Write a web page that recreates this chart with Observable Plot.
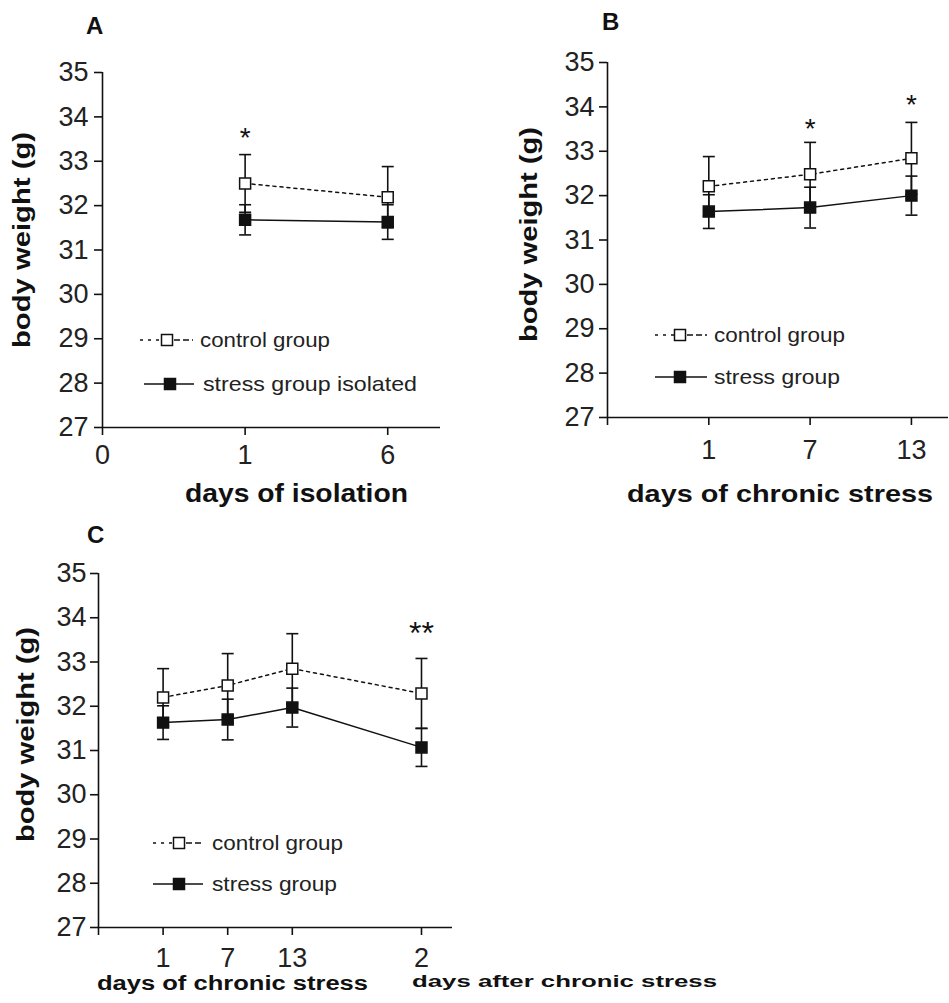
<!DOCTYPE html>
<html><head><meta charset="utf-8">
<script src="https://cdn.jsdelivr.net/npm/d3@7"></script>
<script src="https://cdn.jsdelivr.net/npm/@observablehq/plot@0.6"></script>
<style>
body{margin:0;background:#fff;}
#wrap{position:relative;width:949px;height:1003px;overflow:hidden;background:#fff;}
#wrap svg{position:absolute;}
</style></head><body><div id="wrap"></div>
<script>
// ---------- Panel A: days of isolation ----------
const daysA = ["1", "6"];
const tickLabelsA = ["0", "1", "6"];
const controlA = [32.50, 32.19];
const controlSeA = [0.65, 0.69];
const stressA = [31.68, 31.63];
const stressSeA = [0.34, 0.39];
const starsA = [{day: "1", y: 33.69, label: "*"}];

// ---------- Panel B: days of chronic stress ----------
const daysB = ["1", "7", "13"];
const tickLabelsB = ["", "1", "7", "13"];
const controlB = [32.21, 32.48, 32.84];
const controlSeB = [0.67, 0.72, 0.81];
const stressB = [31.64, 31.73, 32.00];
const stressSeB = [0.38, 0.46, 0.44];
const starsB = [{day: "7", y: 33.65, label: "*"}, {day: "13", y: 34.19, label: "*"}];

// ---------- Panel C: chronic stress + days after ----------
const daysC = ["1", "7", "13", "2"];
const phaseC = ["chronic", "chronic", "chronic", "after"];
const controlC = [32.20, 32.47, 32.85, 32.29];
const controlSeC = [0.65, 0.72, 0.79, 0.79];
const stressC = [31.63, 31.70, 31.97, 31.07];
const stressSeC = [0.38, 0.46, 0.44, 0.43];
const starsC = [{day: "2", y: 33.82, label: "**"}];

const yTicks = [27, 28, 29, 30, 31, 32, 33, 34, 35];
const INK = "#111";
const FONT = "'Liberation Sans', Arial, Helvetica, sans-serif";

const capSymbol = {draw(ctx, size) { const w = Math.sqrt(size / Math.PI); ctx.moveTo(-w, 0); ctx.lineTo(w, 0); }};

function panel(cfg) {
  const rows = [];
  cfg.days.forEach((d, i) => {
    const pos = cfg.pos(i);
    rows.push({day: d, pos, group: "control", mean: cfg.control[i], se: cfg.controlSe[i]});
    rows.push({day: d, pos, group: "stress", mean: cfg.stress[i], se: cfg.stressSe[i]});
  });
  const ctrl = rows.filter(r => r.group === "control");
  const str = rows.filter(r => r.group === "stress");
  const caps = rows.flatMap(r => [{pos: r.pos, y: r.mean + r.se}, {pos: r.pos, y: r.mean - r.se}]);
  const stars = cfg.stars.map(s => ({...s, pos: cfg.pos(cfg.days.indexOf(s.day))}));

  const svg = Plot.plot({
    width: cfg.width, height: cfg.height,
    marginLeft: cfg.ml, marginRight: cfg.mr, marginTop: cfg.mt, marginBottom: cfg.mb,
    x: {domain: [0, cfg.xmax]},
    y: {domain: [27, 35]},
    style: {fontFamily: FONT, color: INK, background: "transparent", overflow: "visible"},
    marks: [
      Plot.ruleY([27], {stroke: INK, strokeWidth: 1.6}),
      Plot.ruleX([0], {stroke: INK, strokeWidth: 1.6}),
      Plot.axisY({ticks: yTicks, tickSize: 8, tickPadding: cfg.yPad, fontSize: 27, strokeWidth: 1.6, label: null, tickFormat: d => String(d), fill: "#222"}),
      Plot.axisX({ticks: cfg.ticks, tickSize: 8, tickPadding: cfg.xPad, fontSize: 27, strokeWidth: 1.6, label: null, tickFormat: cfg.tickFormat, fill: "#222"}),
      Plot.ruleX(rows, {x: "pos", y1: r => r.mean - r.se, y2: r => r.mean + r.se, stroke: INK, strokeWidth: 1.6}),
      Plot.dot(caps, {x: "pos", y: "y", symbol: capSymbol, r: 6, stroke: INK, strokeWidth: 1.6, fill: "none"}),
      Plot.line(ctrl, {x: "pos", y: "mean", stroke: INK, strokeWidth: 1.5, strokeDasharray: "3,4"}),
      Plot.line(str, {x: "pos", y: "mean", stroke: INK, strokeWidth: 1.5}),
      Plot.dot(str, {x: "pos", y: "mean", symbol: "square", r: 6.2, stroke: INK, strokeWidth: 1.5, fill: INK}),
      Plot.dot(ctrl, {x: "pos", y: "mean", symbol: "square", r: 6.2, stroke: INK, strokeWidth: 1.5, fill: "white"}),
      Plot.text(stars, {x: "pos", y: "y", text: "label", fontSize: cfg.starSize, dy: cfg.starDy, lineAnchor: "middle", fill: INK})
    ]
  });
  svg.style.left = cfg.left + "px";
  svg.style.top = cfg.top + "px";
  const g = d3.select(svg);
  const txt = (t) => {
    const e = g.append("text")
      .attr("font-family", FONT)
      .attr("font-size", t.size)
      .attr("font-weight", t.bold ? "bold" : "normal")
      .attr("fill", t.fill || INK)
      .attr("text-anchor", t.anchor || "middle")
      .text(t.text);
    if (t.rotate) e.attr("transform", `translate(${t.x},${t.y}) rotate(-90)`);
    else e.attr("x", t.x).attr("y", t.y);
    if (t.length) e.attr("textLength", t.length).attr("lengthAdjust", "spacingAndGlyphs");
  };
  cfg.texts.forEach(txt);
  // legend
  const L = cfg.legend;
  const lc = g.append("g").attr("stroke", INK).attr("stroke-width", 1.5);
  lc.append("line").attr("x1", L.c.x1).attr("x2", L.c.sq - 6).attr("y1", L.c.y).attr("y2", L.c.y).attr("stroke-dasharray", "3,5");
  lc.append("line").attr("x1", L.c.sq + 7).attr("x2", L.c.x2).attr("y1", L.c.y).attr("y2", L.c.y).attr("stroke-dasharray", "6,3");
  lc.append("rect").attr("x", L.c.sq - 5.5).attr("y", L.c.y - 5.5).attr("width", 11).attr("height", 11).attr("fill", "white").attr("stroke-width", 1.5);
  lc.append("line").attr("x1", L.s.x1).attr("x2", L.s.x2).attr("y1", L.s.y).attr("y2", L.s.y);
  lc.append("rect").attr("x", L.s.sq - 5.5).attr("y", L.s.y - 5.5).attr("width", 11).attr("height", 11).attr("fill", INK).attr("stroke-width", 1.5);
  txt({x: L.c.tx, y: L.c.y + 7, text: "control group", size: 21, anchor: "start", length: L.c.len, fill: "#222"});
  txt({x: L.s.tx, y: L.s.y + 7, text: L.s.text, size: 21, anchor: "start", length: L.s.len, fill: "#222"});
  document.getElementById("wrap").appendChild(svg);
}

panel({
  left: 0, top: 0, width: 475, height: 510, ml: 102, mr: 35, mt: 72, mb: 83, xmax: 2.37,
  days: daysA, control: controlA, controlSe: controlSeA, stress: stressA, stressSe: stressSeA, stars: starsA,
  pos: i => i + 1,
  ticks: [0, 1, 2], tickFormat: d => tickLabelsA[d], xPad: 9, yPad: 6, starSize: 28, starDy: 7,
  texts: [
    {x: 86, y: 34, text: "A", size: 24, bold: true, anchor: "start"},
    {x: 30, y: 240, text: "body weight (g)", size: 24, bold: true, rotate: true, length: 216},
    {x: 296.5, y: 502, text: "days of isolation", size: 25, bold: true, length: 223}
  ],
  legend: {
    c: {x1: 140, x2: 193, sq: 167, y: 340, tx: 200, len: 130},
    s: {x1: 144, x2: 194, sq: 170, y: 384, tx: 203, len: 214, text: "stress group isolated"}
  }
});

panel({
  left: 500, top: 0, width: 449, height: 510, ml: 107, mr: 1, mt: 62, mb: 93, xmax: 3.366,
  days: daysB, control: controlB, controlSe: controlSeB, stress: stressB, stressSe: stressSeB, stars: starsB,
  pos: i => i + 1,
  ticks: [0, 1, 2, 3], tickFormat: d => tickLabelsB[d], xPad: 14, yPad: 5, starSize: 28, starDy: 7,
  texts: [
    {x: 102, y: 30, text: "B", size: 24, bold: true, anchor: "start"},
    {x: 37, y: 234.5, text: "body weight (g)", size: 24, bold: true, rotate: true, length: 215},
    {x: 280, y: 502, text: "days of chronic stress", size: 24, bold: true, length: 306}
  ],
  legend: {
    c: {x1: 155, x2: 207, sq: 180, y: 335, tx: 214, len: 131},
    s: {x1: 155, x2: 207, sq: 180, y: 377, tx: 214, len: 126, text: "stress group"}
  }
});

const posC = i => i + 1 + (phaseC[i] === "after" ? 1 : 0);
const tickLabelsC = {0: ""};
daysC.forEach((d, i) => { tickLabelsC[posC(i)] = d; });
panel({
  left: 0, top: 480, width: 500, height: 523, ml: 98, mr: 48, mt: 93, mb: 76, xmax: 5.48,
  days: daysC, control: controlC, controlSe: controlSeC, stress: stressC, stressSe: stressSeC, stars: starsC,
  pos: posC,
  ticks: [0, ...daysC.map((d, i) => posC(i))], tickFormat: d => tickLabelsC[d], xPad: 12, yPad: 4, starSize: 32, starDy: 8,
  texts: [
    {x: 87, y: 63, text: "C", size: 24, bold: true, anchor: "start"},
    {x: 34, y: 254.5, text: "body weight (g)", size: 24, bold: true, rotate: true, length: 215},
    {x: 232.5, y: 510, text: "days of chronic stress", size: 20, bold: true, length: 271},
    {x: 412, y: 507, text: "days after chronic stress", size: 17, bold: true, anchor: "start", length: 305}
  ],
  legend: {
    c: {x1: 153, x2: 203, sq: 179, y: 363, tx: 212, len: 131},
    s: {x1: 153, x2: 203, sq: 179, y: 404, tx: 212, len: 125, text: "stress group"}
  }
});
</script></body></html>
